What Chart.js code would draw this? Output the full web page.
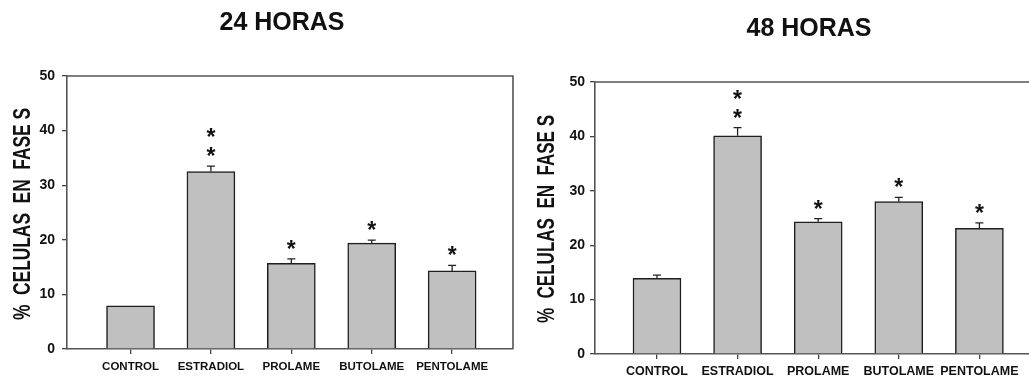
<!DOCTYPE html>
<html>
<head>
<meta charset="utf-8">
<script src="https://cdn.jsdelivr.net/npm/chart.js@4/dist/chart.umd.min.js"></script>
<style>
  html, body { margin:0; padding:0; background:#fff; overflow:hidden; width:1029px; height:377px; }
  .box { position:absolute; top:0; }
</style>
</head>
<body>
<div class="box" style="left:0px;width:520px;height:377px;"><canvas id="c24" width="520" height="377"></canvas></div>
<div class="box" style="left:520px;width:530px;height:377px;"><canvas id="c48" width="530" height="377"></canvas></div>
<script>
const categories = ['CONTROL', 'ESTRADIOL', 'PROLAME', 'BUTOLAME', 'PENTOLAME'];
const yTickValues = [0, 10, 20, 30, 40, 50];

const values24 = [7.9, 32.5, 15.7, 19.4, 14.3];
const errors24 = [0, 1.0, 0.8, 0.55, 1.0];
const stars24  = [0, 2, 1, 1, 1];

const values48 = [13.9, 40.1, 24.3, 28.0, 23.1];
const errors48 = [0.6, 1.5, 0.6, 0.8, 1.0];
const stars48  = [0, 2, 1, 1, 1];

const titles = ['24 HORAS', '48 HORAS'];
const yAxisTitle = '%  CELULAS  EN  FASE S';

const FONT = '"Liberation Sans", Arial, Helvetica, sans-serif';

const annot = {
  id: 'annot',
  afterDatasetsDraw(chart, args, o) {
    const ctx = chart.ctx;
    const x = chart.scales.x, y = chart.scales.y;
    const a = chart.chartArea;
    ctx.save();
    ctx.strokeStyle = '#555';
    ctx.lineWidth = 1.6;
    ctx.beginPath();
    ctx.moveTo(a.left, a.top);
    ctx.lineTo(a.right, a.top);
    ctx.lineTo(a.right, a.bottom);
    ctx.stroke();
    o.values.forEach((v, i) => {
      const px = x.getPixelForValue(i + 1);
      const yTop = y.getPixelForValue(v);
      const yE = y.getPixelForValue(v + o.errors[i]);
      if (o.errors[i] > 0) {
        ctx.strokeStyle = '#222';
        ctx.lineWidth = 1.3;
        ctx.beginPath();
        ctx.moveTo(px, yTop);
        ctx.lineTo(px, yE);
        ctx.moveTo(px - 4, yE);
        ctx.lineTo(px + 4, yE);
        ctx.stroke();
      }
      ctx.fillStyle = '#111';
      ctx.font = 'bold 23px ' + FONT;
      ctx.textAlign = 'center';
      ctx.textBaseline = 'alphabetic';
      for (let k = 0; k < o.stars[i]; k++) {
        const cy = yE - 15 - k * 19;
        ctx.fillText('*', px, cy + 13);
      }
    });
    ctx.fillStyle = '#111';
    ctx.font = 'bold 25px ' + FONT;
    ctx.textAlign = 'center';
    ctx.textBaseline = 'middle';
    ctx.fillText(o.title, o.titleX, o.titleY);
    ctx.font = 'bold 24px ' + FONT;
    const w = ctx.measureText(yAxisTitle).width;
    const f = o.yTitleLen / w;
    ctx.translate(o.yTitleX, o.yTitleY);
    ctx.rotate(-Math.PI / 2);
    ctx.scale(f, 1);
    ctx.fillText(yAxisTitle, 0, 0);
    ctx.restore();
  }
};

function makeChart(id, values, errors, stars, cfg) {
  return new Chart(document.getElementById(id), {
    type: 'bar',
    data: {
      datasets: [{
        data: values.map((v, i) => ({ x: i + 1, y: v })),
        backgroundColor: '#c0c0c0',
        borderColor: '#1e1e1e',
        borderWidth: 1.5,
        borderSkipped: 'bottom',
        barThickness: 48
      }]
    },
    options: {
      responsive: false,
      animation: false,
      devicePixelRatio: 1,
      layout: { padding: { top: cfg.top, right: cfg.right, left: 0, bottom: 0 } },
      plugins: {
        legend: { display: false },
        tooltip: { enabled: false },
        annot: {
          values, errors, stars,
          title: cfg.title, titleX: cfg.titleX, titleY: cfg.titleY,
          yTitleX: cfg.yTitleX, yTitleY: cfg.yTitleY, yTitleLen: cfg.yTitleLen
        }
      },
      scales: {
        x: {
          type: 'linear',
          offset: false,
          min: cfg.xmin,
          max: cfg.xmax,
          afterBuildTicks: s => { s.ticks = categories.map((c, i) => ({ value: i + 1 })); },
          afterFit: s => { s.height = cfg.xh; },
          grid: { offset: false, drawOnChartArea: false, drawTicks: true, tickLength: 5, color: '#444', lineWidth: 1.3 },
          border: { display: true, color: '#555', width: 1.6 },
          ticks: {
            autoSkip: false, maxRotation: 0, minRotation: 0,
            padding: cfg.xpad,
            color: '#111',
            font: { family: FONT, size: cfg.xfont, weight: 'bold' },
            callback: v => categories[Math.round(v) - 1] || ''
          }
        },
        y: {
          min: 0, max: 50,
          afterBuildTicks: s => { s.ticks = yTickValues.map(v => ({ value: v })); },
          afterFit: s => { s.width = cfg.yw; },
          grid: { drawOnChartArea: false, drawTicks: true, tickLength: 5, color: '#444', lineWidth: 1.3 },
          border: { display: true, color: '#555', width: 1.6 },
          ticks: {
            padding: cfg.ypad,
            color: '#111',
            font: { family: FONT, size: 14, weight: 'bold' }
          }
        }
      }
    },
    plugins: [annot]
  });
}

makeChart('c24', values24, errors24, stars24, {
  top: 76, right: 7, yw: 67, xh: 28, xmin: 0.21, xmax: 5.757, xfont: 11.5, ypad: 7, xpad: 6,
  title: titles[0], titleX: 282, titleY: 23,
  yTitleX: 23, yTitleY: 214, yTitleLen: 212
});
makeChart('c48', values48, errors48, stars48, {
  top: 82, right: 5, yw: 75, xh: 23, xmin: 0.231, xmax: 5.814, xfont: 12.5, ypad: 5, xpad: 5,
  title: titles[1], titleX: 289, titleY: 29,
  yTitleX: 27, yTitleY: 219, yTitleLen: 208
});
</script>
</body>
</html>
